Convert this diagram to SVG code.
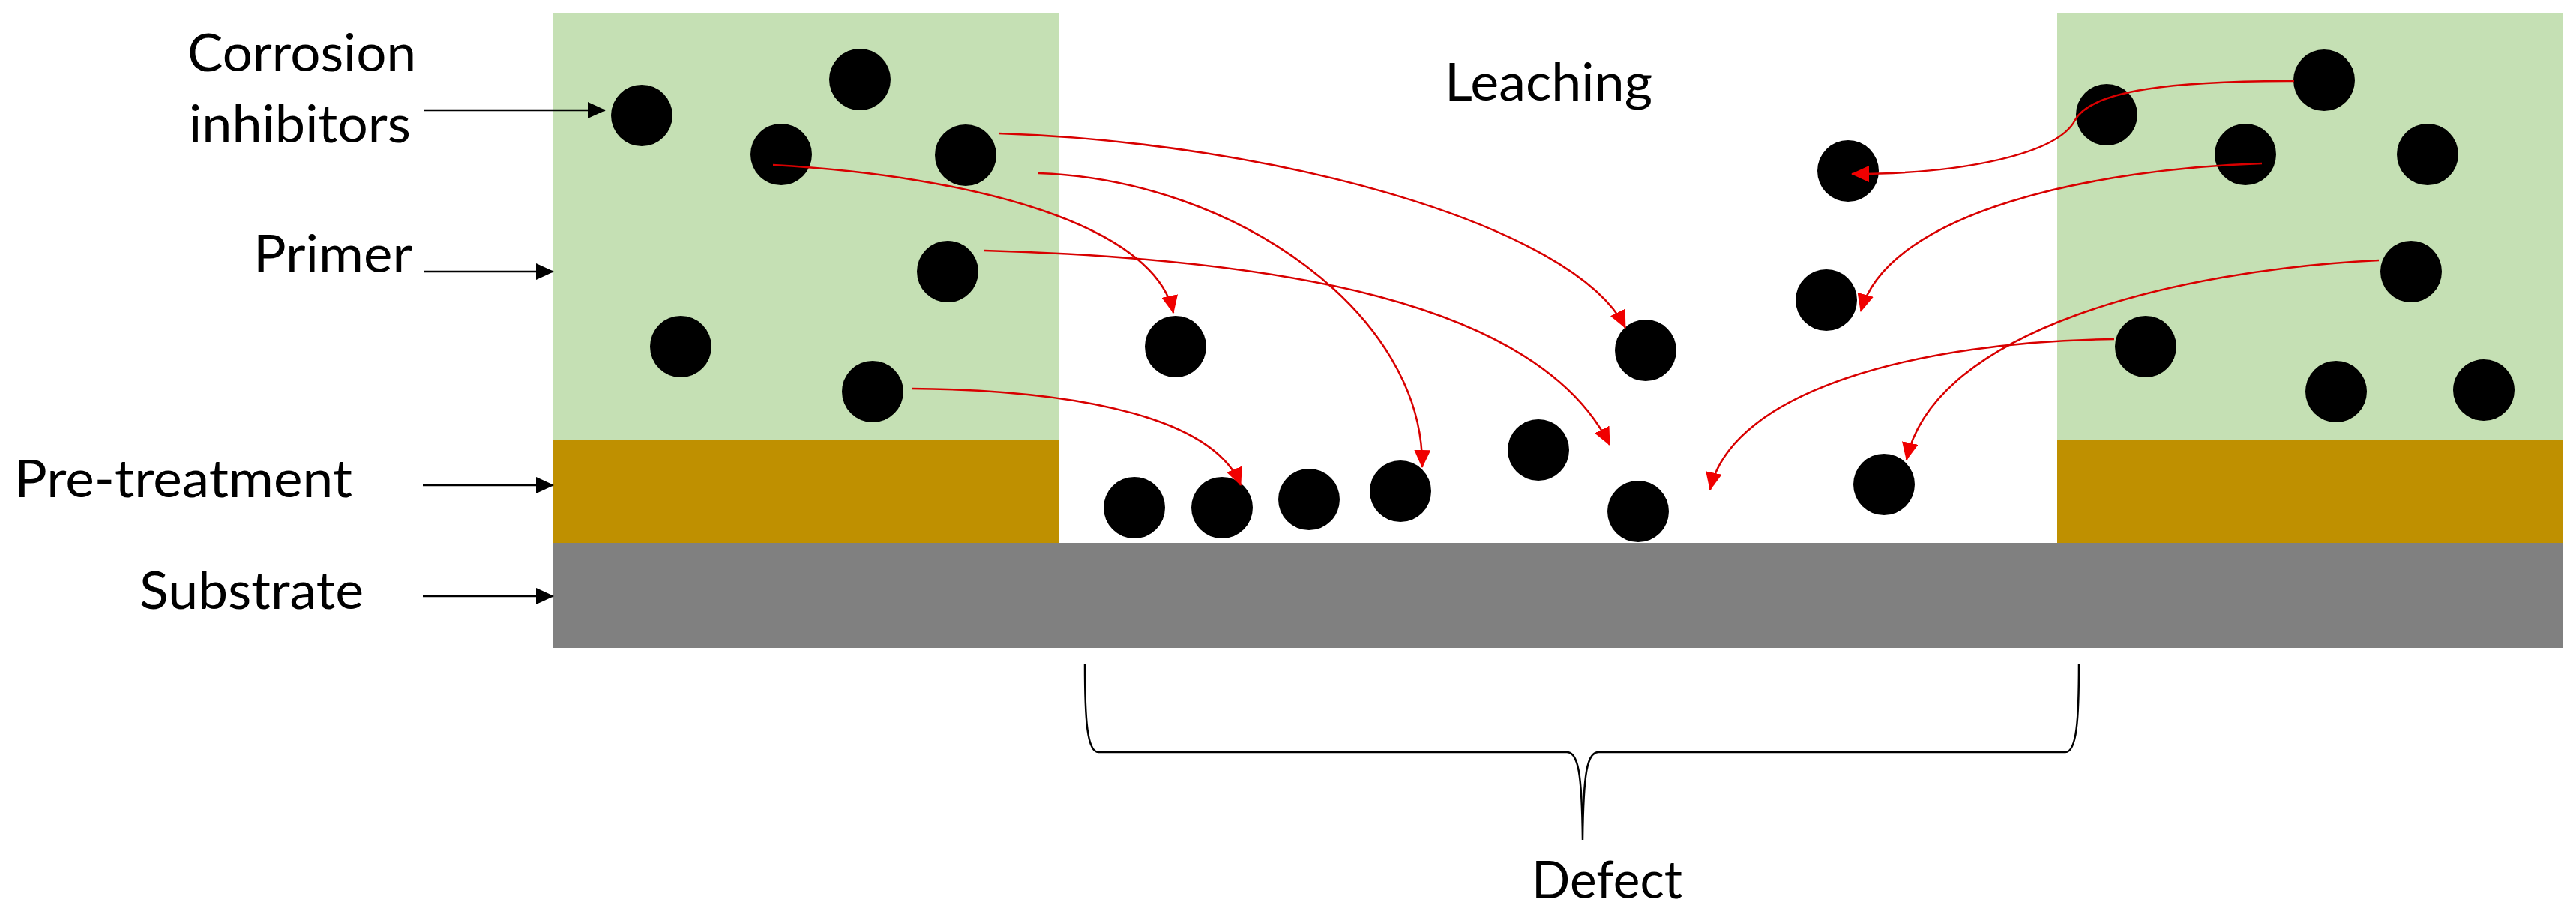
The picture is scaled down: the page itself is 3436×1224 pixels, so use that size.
<svg xmlns="http://www.w3.org/2000/svg" width="3436" height="1224" viewBox="0 0 3436 1224">
<style>
.lbl{font-family:Lato,"Open Sans","Liberation Sans",sans-serif;font-size:70px;fill:#000}
.primer{fill:#C5E0B4}
.pre{fill:#BF9000}
.sub{fill:#808080}
.ci{fill:#000}
.red{fill:none;stroke:#d80000;stroke-width:2.5}
.blk{fill:none;stroke:#000;stroke-width:2.5}
</style>
<defs>
<marker id="ra" markerUnits="userSpaceOnUse" markerWidth="24" markerHeight="22" refX="23" refY="11" orient="auto">
<path d="M0,0 L24,11 L0,22 z" fill="#f00000"/>
</marker>
<marker id="ba" markerUnits="userSpaceOnUse" markerWidth="24" markerHeight="22" refX="23" refY="11" orient="auto">
<path d="M0,0 L24,11 L0,22 z" fill="#000"/>
</marker>
</defs>
<rect width="3436" height="1224" fill="#fff"/>
<g id="layers">
<rect id="primer-left" class="primer" x="737" y="17" width="676" height="570"/>
<rect id="primer-right" class="primer" x="2744" y="17" width="674" height="570"/>
<rect id="pretreat-left" class="pre" x="737" y="587" width="676" height="138"/>
<rect id="pretreat-right" class="pre" x="2744" y="587" width="674" height="138"/>
<rect id="substrate" class="sub" x="737" y="724" width="2681" height="140"/>
</g>
<g id="inhibitors">
<circle cx="856" cy="154" r="41" class="ci"/>
<circle cx="1147" cy="106" r="41" class="ci"/>
<circle cx="1042" cy="206" r="41" class="ci"/>
<circle cx="1288" cy="207" r="41" class="ci"/>
<circle cx="1264" cy="362" r="41" class="ci"/>
<circle cx="908" cy="462" r="41" class="ci"/>
<circle cx="1164" cy="522" r="41" class="ci"/>
<circle cx="1568" cy="462" r="41" class="ci"/>
<circle cx="2195" cy="467" r="41" class="ci"/>
<circle cx="2465" cy="228" r="41" class="ci"/>
<circle cx="2436" cy="400" r="41" class="ci"/>
<circle cx="2052" cy="600" r="41" class="ci"/>
<circle cx="1513" cy="677" r="41" class="ci"/>
<circle cx="1630" cy="677" r="41" class="ci"/>
<circle cx="1746" cy="666" r="41" class="ci"/>
<circle cx="1868" cy="655" r="41" class="ci"/>
<circle cx="2185" cy="682" r="41" class="ci"/>
<circle cx="2513" cy="646" r="41" class="ci"/>
<circle cx="2810" cy="153" r="41" class="ci"/>
<circle cx="3100" cy="107" r="41" class="ci"/>
<circle cx="2995" cy="206" r="41" class="ci"/>
<circle cx="3238" cy="206" r="41" class="ci"/>
<circle cx="3216" cy="362" r="41" class="ci"/>
<circle cx="2862" cy="462" r="41" class="ci"/>
<circle cx="3116" cy="522" r="41" class="ci"/>
<circle cx="3313" cy="520" r="41" class="ci"/>
</g>
<g id="connectors">
<path class="red" marker-end="url(#ra)" d="M1332,178 C1700,190 2100,300 2168,437"/>
<path class="red" marker-end="url(#ra)" d="M1385,231 C1650,240 1900,420 1897,623"/>
<path class="red" marker-end="url(#ra)" d="M1031,220 C1300,235 1540,300 1565,417"/>
<path class="red" marker-end="url(#ra)" d="M1313,334 C1700,345 2050,400 2147,593"/>
<path class="red" marker-end="url(#ra)" d="M1216,518 C1450,520 1620,560 1655,647"/>
<path class="red" marker-end="url(#ra)" d="M3060,108 C2900,108 2790,120 2768,160 C2745,205 2620,232 2470,232"/>
<path class="red" marker-end="url(#ra)" d="M3017,218 C2800,225 2520,280 2482,415"/>
<path class="red" marker-end="url(#ra)" d="M3173,347 C2900,360 2580,440 2543,613"/>
<path class="red" marker-end="url(#ra)" d="M2820,452 C2560,455 2310,520 2281,653"/>
<path class="blk" marker-end="url(#ba)" d="M565,147 L807,147"/>
<path class="blk" marker-end="url(#ba)" d="M565,362 L738,362"/>
<path class="blk" marker-end="url(#ba)" d="M564,647 L738,647"/>
<path class="blk" marker-end="url(#ba)" d="M564,795 L738,795"/>
<path id="defect-brace" class="blk" d="M1447,885 C1447,960 1450,1003 1465,1003 L2090,1003 C2105,1003 2110,1030 2111,1120 C2112,1030 2117,1003 2132,1003 L2755,1003 C2770,1003 2773,960 2773,885"/>
</g>
<g id="labels">
<text class="lbl" x="250" y="95" textLength="305" lengthAdjust="spacingAndGlyphs">Corrosion</text>
<text class="lbl" x="252" y="190" textLength="296" lengthAdjust="spacingAndGlyphs">inhibitors</text>
<text class="lbl" x="338" y="363" textLength="212" lengthAdjust="spacingAndGlyphs">Primer</text>
<text class="lbl" x="19" y="663" textLength="451" lengthAdjust="spacingAndGlyphs">Pre-treatment</text>
<text class="lbl" x="186" y="812" textLength="299" lengthAdjust="spacingAndGlyphs">Substrate</text>
<text class="lbl" x="1927" y="134" textLength="277" lengthAdjust="spacingAndGlyphs">Leaching</text>
<text class="lbl" x="2043" y="1198" textLength="201" lengthAdjust="spacingAndGlyphs">Defect</text>
</g>
</svg>
